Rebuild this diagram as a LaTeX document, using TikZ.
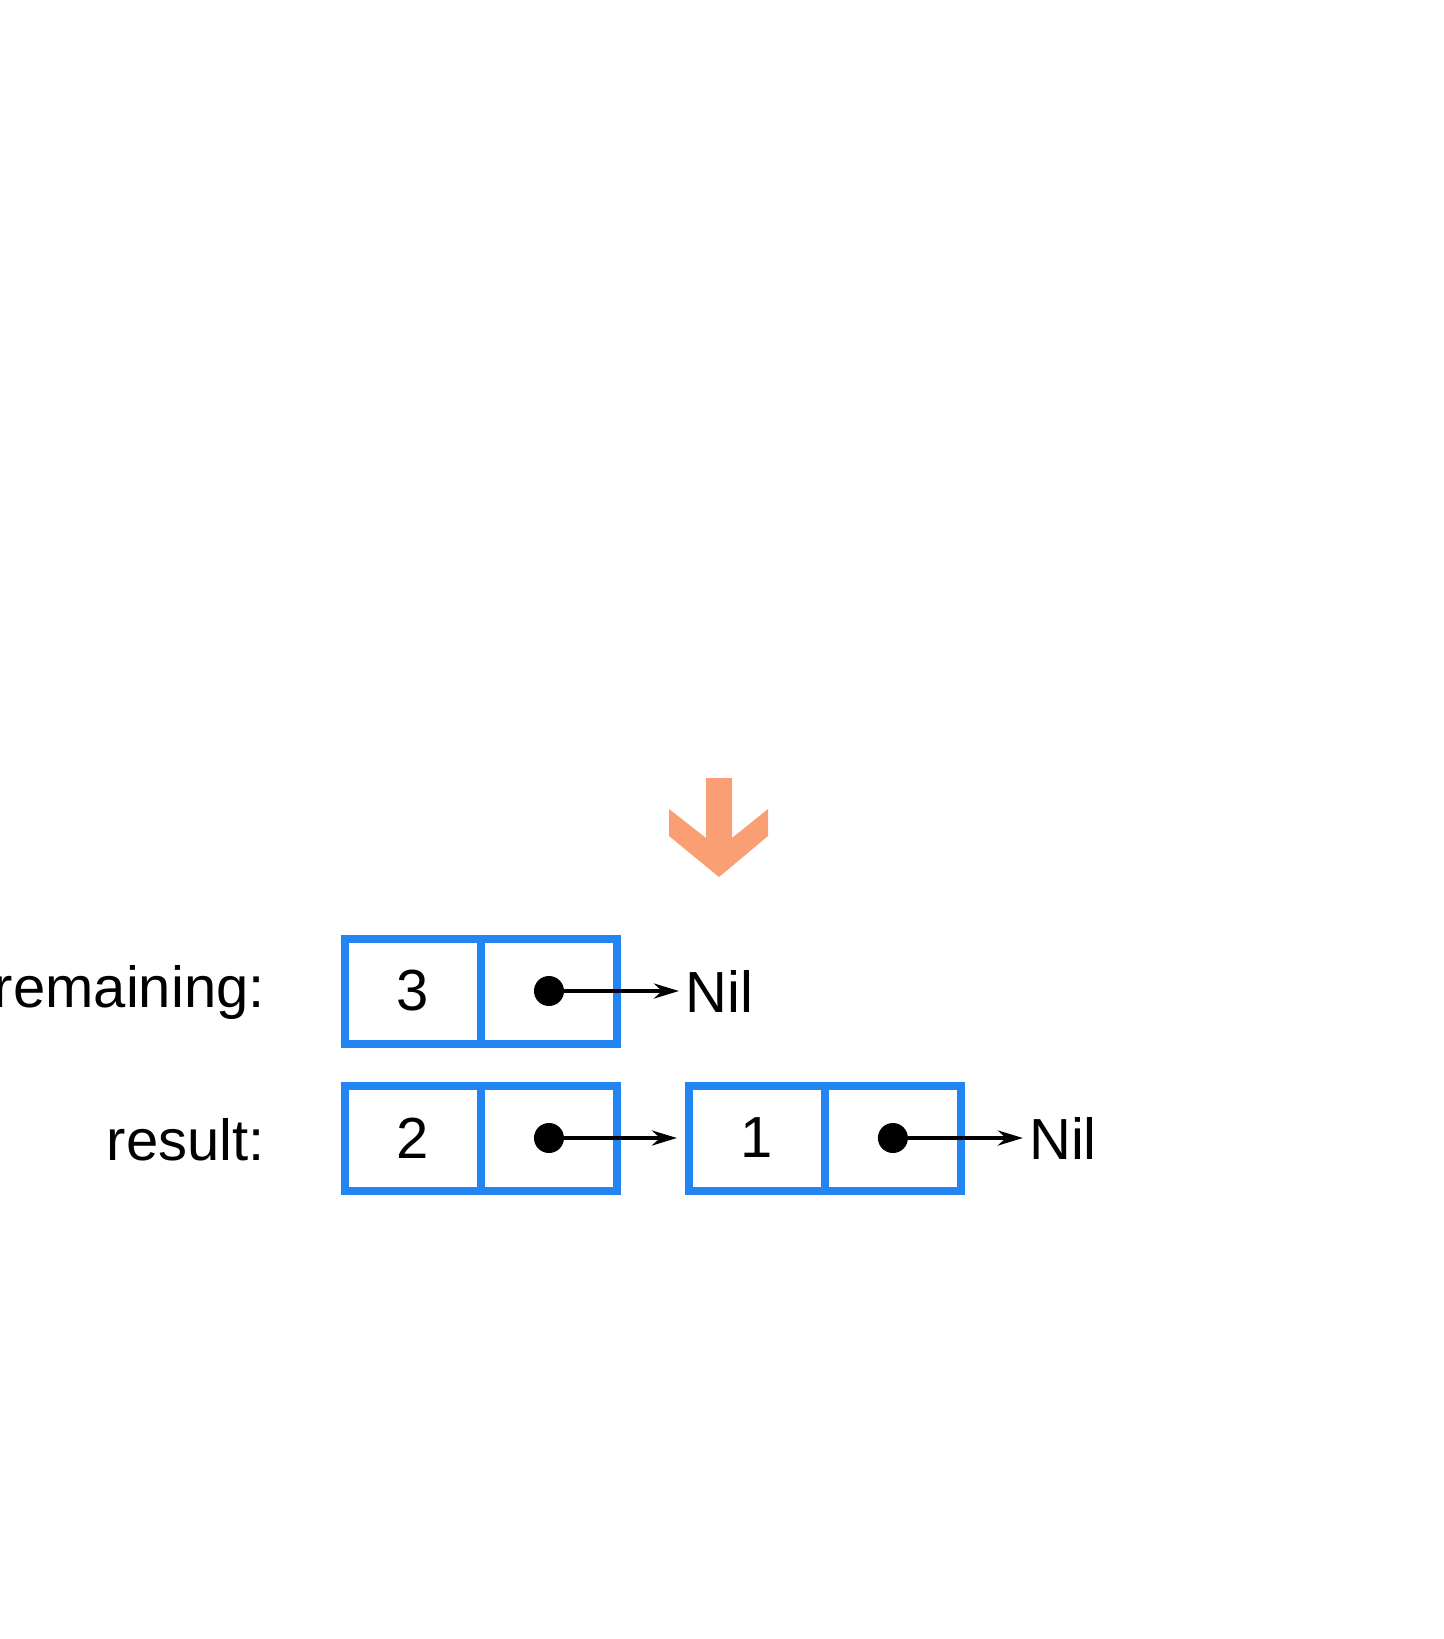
\documentclass[tikz,border=0pt]{standalone}
\usepackage{fontspec}
\setmainfont{Liberation Sans}
\usetikzlibrary{positioning,arrows.meta}
\definecolor{cellblue}{RGB}{35,133,242}
\definecolor{salmon}{RGB}{250,158,115}
\begin{document}
\begin{tikzpicture}[x=0.02cm,y=-0.02cm,
  cell/.style={draw=cellblue,line width=0.16cm,minimum width=2.72cm,minimum height=2.1cm,inner sep=0pt,outer sep=0pt,font=\fontsize{33pt}{40pt}\selectfont},
  dot/.style={circle,fill=black,inner sep=0pt,minimum size=0.6cm},
  txt/.style={inner sep=0pt,font=\fontsize{33pt}{40pt}\selectfont},
  ptr/.style={line width=0.08cm,-{Stealth[length=0.5cm,width=0.3cm]}}]
\useasboundingbox (0,0) rectangle (1443,1639);
\fill[salmon] (706,778) -- (732,778) -- (732,838) -- (768,809) -- (768,836) -- (719,877) -- (669,836) -- (669,809) -- (706,838) -- cycle;
\node[cell] (val3) at (413,991) {3};
\node[cell,right=0pt of val3] (ptr3) {};
\node[dot] (dot3) at (ptr3.center) {};
\node[txt,right=1.36cm of ptr3] (nil3) {Nil};
\node[txt,anchor=base east] (remaining) at (265,1007) {remaining:};
\node[cell] (val2) at (413,1138) {2};
\node[cell,right=0pt of val2] (ptr2) {};
\node[dot] (dot2) at (ptr2.center) {};
\node[cell,right=1.44cm of ptr2] (val1) {1};
\node[cell,right=0pt of val1] (ptr1) {};
\node[dot] (dot1) at (ptr1.center) {};
\node[txt,right=1.36cm of ptr1] (nil1) {Nil};
\node[txt,anchor=base east] (result) at (265,1160) {result:};
\draw[ptr,shorten >=0.12cm] (dot3) -- (nil3);
\draw[ptr,shorten >=0.24cm] (dot2) -- (val1);
\draw[ptr,shorten >=0.12cm] (dot1) -- (nil1);
\end{tikzpicture}
\end{document}
